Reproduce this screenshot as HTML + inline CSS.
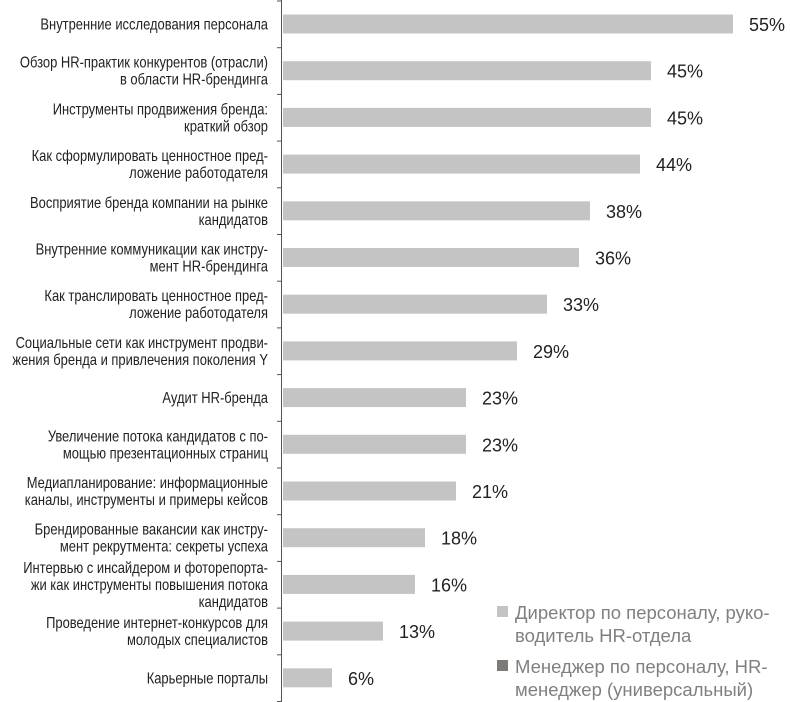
<!DOCTYPE html>
<html><head><meta charset="utf-8"><style>
html,body{margin:0;padding:0;background:#fff;}
svg{display:block;}
.l{font-family:"Liberation Sans",sans-serif;font-size:15.8px;fill:#222;text-anchor:end;}
.v{font-family:"Liberation Sans",sans-serif;font-size:18px;fill:#222;}
.g{font-family:"Liberation Sans",sans-serif;font-size:18.5px;fill:#808080;}
</style></head><body>
<svg width="790" height="702" viewBox="0 0 790 702" xmlns="http://www.w3.org/2000/svg">
<line x1="281.5" y1="0" x2="281.5" y2="702" stroke="#555" stroke-width="1"/>
<g id="rows"></g>
<rect x="497" y="606" width="11" height="11" fill="#c4c4c4"/>
<text class="g" x="515" y="619">Директор по персоналу, руко-</text>
<text class="g" x="515" y="642">водитель HR-отдела</text>
<rect x="497" y="660" width="11" height="11" fill="#7e7a75"/>
<text class="g" x="515" y="673">Менеджер по персоналу, HR-</text>
<text class="g" x="515" y="696">менеджер (универсальный)</text>
</svg>
<script>
var d=[[["Внутренние исследования персонала"],55,733],
[["Обзор HR-практик конкурентов (отрасли)","в области HR-брендинга"],45,651],
[["Инструменты продвижения бренда:","краткий обзор"],45,651],
[["Как сформулировать ценностное пред-","ложение работодателя"],44,640],
[["Восприятие бренда компании на рынке","кандидатов"],38,590],
[["Внутренние коммуникации как инстру-","мент HR-брендинга"],36,579],
[["Как транслировать ценностное пред-","ложение работодателя"],33,547],
[["Социальные сети как инструмент продви-","жения бренда и привлечения поколения Y"],29,517],
[["Аудит HR-бренда"],23,466],
[["Увеличение потока кандидатов с по-","мощью презентационных страниц"],23,466],
[["Медиапланирование: информационные","каналы, инструменты и примеры кейсов"],21,456],
[["Брендированные вакансии как инстру-","мент рекрутмента: секреты успеха"],18,425],
[["Интервью с инсайдером и фоторепорта-","жи как инструменты повышения потока","кандидатов"],16,415],
[["Проведение интернет-конкурсов для","молодых специалистов"],13,383],
[["Карьерные порталы"],6,332]];
var g=document.getElementById("rows"),h="";
for(var k=0;k<16;k++){var ty=(1+46.7*k).toFixed(1);h+='<line x1="277" y1="'+ty+'" x2="282" y2="'+ty+'" stroke="#555"/>';}
d.forEach(function(r,i){var c=24+46.7*i;var w=r[2]-283;
h+='<rect x="283" y="'+(c-9.5)+'" width="'+w+'" height="19" fill="#c4c4c4"/>';
h+='<text class="v" x="'+(r[2]+16)+'" y="'+(c+7)+'">'+r[1]+'%</text>';
var n=r[0].length,y0=c-(n-1)*8.5+5.5;
r[0].forEach(function(t,j){h+='<text class="l" transform="translate(268,'+(y0+j*17)+') scale(0.82,1)" x="0" y="0">'+t+'</text>';});
});
g.innerHTML=h;
</script>
</body></html>
